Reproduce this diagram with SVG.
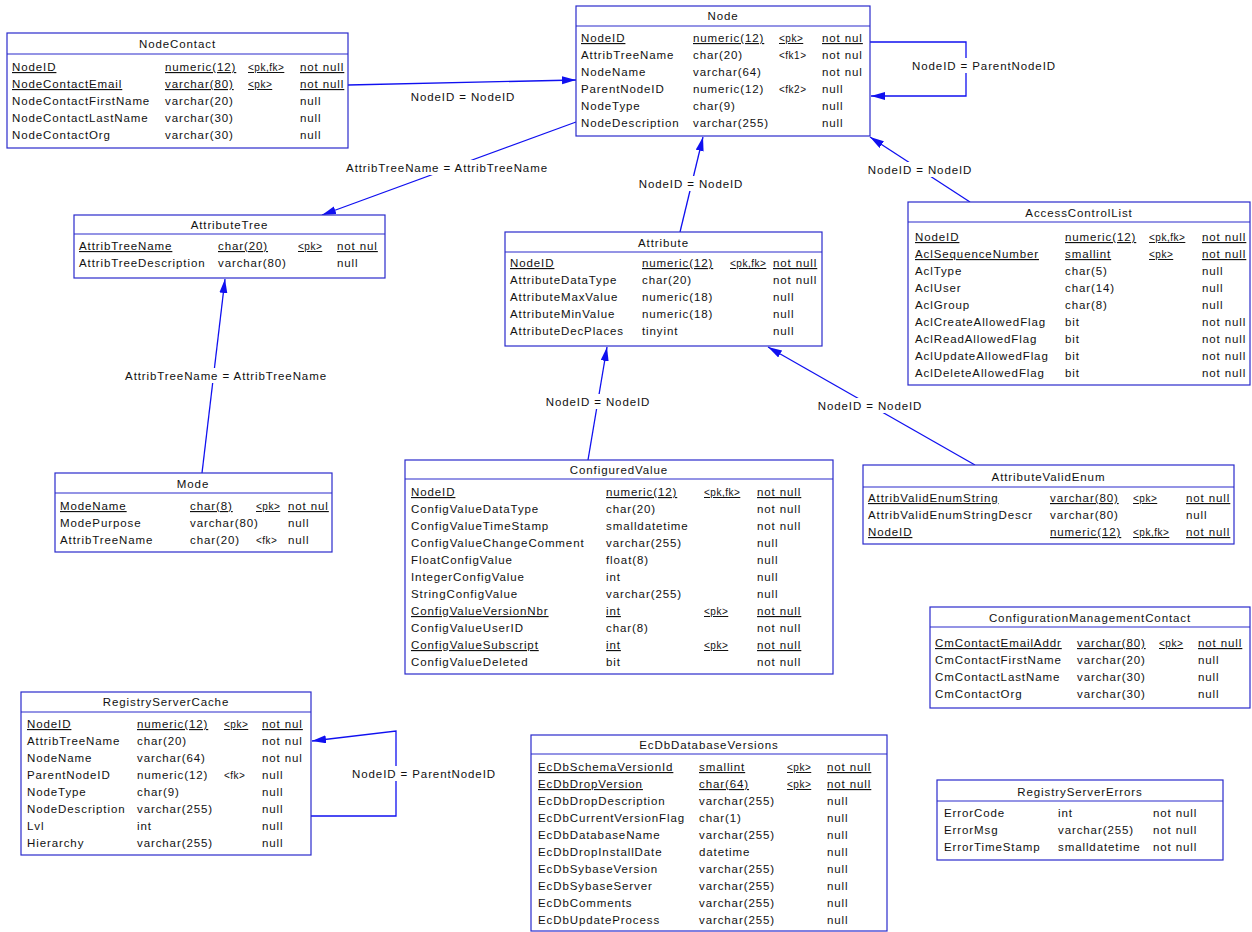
<svg xmlns="http://www.w3.org/2000/svg" width="1252" height="932" viewBox="0 0 1252 932">
<style>
.bg{fill:#fff}
.box{fill:#fff;stroke:#2a2acc;stroke-width:1.2}
.sep{stroke:#2a2acc;stroke-width:1.2}
.t{font-family:"Liberation Sans",Arial,sans-serif;font-size:11.5px;letter-spacing:0.9px;fill:#111}
.ttl{text-anchor:middle}
.k{font-size:10px;letter-spacing:0.5px}
.u{text-decoration:underline}
.conn{stroke:#1010f0;stroke-width:1.3;fill:none}
.lbg{fill:#fff}
.lbl{text-anchor:middle}
</style>
<defs>
<marker id="arr" markerUnits="userSpaceOnUse" markerWidth="15" markerHeight="9" refX="14" refY="4" orient="auto">
<path d="M0,0 L14,4 L0,8 z" fill="#1010f0"/>
</marker>
</defs>
<rect class="bg" x="0" y="0" width="1252" height="932"/>

<g id="connectors">
<line class="conn" x1="348" y1="85" x2="576" y2="80" marker-end="url(#arr)"/>
<polyline class="conn" points="870,42 966,42 966,96 871,96" marker-end="url(#arr)"/>
<line class="conn" x1="576" y1="122" x2="322" y2="215" marker-end="url(#arr)"/>
<line class="conn" x1="680" y1="232" x2="703" y2="137" marker-end="url(#arr)"/>
<line class="conn" x1="970" y1="202" x2="870" y2="137" marker-end="url(#arr)"/>
<line class="conn" x1="202" y1="473" x2="225" y2="279" marker-end="url(#arr)"/>
<line class="conn" x1="588" y1="460" x2="607" y2="347" marker-end="url(#arr)"/>
<line class="conn" x1="975" y1="465" x2="768" y2="347" marker-end="url(#arr)"/>
<polyline class="conn" points="311,816 396,816 396,731 312,741" marker-end="url(#arr)"/>

<text class="t lbl" x="463" y="101">NodeID = NodeID</text>
<rect class="lbg" x="910" y="58" width="148" height="15"/>
<text class="t lbl" x="984" y="70">NodeID = ParentNodeID</text>
<rect class="lbg" x="342" y="160" width="210" height="15"/>
<text class="t lbl" x="447" y="172">AttribTreeName = AttribTreeName</text>
<rect class="lbg" x="636" y="176" width="110" height="15"/>
<text class="t lbl" x="691" y="188">NodeID = NodeID</text>
<rect class="lbg" x="865" y="162" width="110" height="15"/>
<text class="t lbl" x="920" y="174">NodeID = NodeID</text>
<rect class="lbg" x="120" y="368" width="212" height="15"/>
<text class="t lbl" x="226" y="380">AttribTreeName = AttribTreeName</text>
<rect class="lbg" x="543" y="394" width="110" height="15"/>
<text class="t lbl" x="598" y="406">NodeID = NodeID</text>
<rect class="lbg" x="815" y="398" width="110" height="15"/>
<text class="t lbl" x="870" y="410">NodeID = NodeID</text>
<rect class="lbg" x="350" y="766" width="148" height="15"/>
<text class="t lbl" x="424" y="778">NodeID = ParentNodeID</text>
</g>

<g id="NodeContact">
<rect class="box" x="7" y="33" width="341" height="115"/>
<text class="t ttl" x="177.5" y="48">NodeContact</text>
<line class="sep" x1="7" y1="54" x2="348" y2="54"/>
<text class="t u" x="12" y="71">NodeID</text><text class="t u" x="165" y="71">numeric(12)</text><text class="t k u" x="248" y="71">&lt;pk,fk&gt;</text><text class="t u" x="300" y="71">not null</text>
<text class="t u" x="12" y="88">NodeContactEmail</text><text class="t u" x="165" y="88">varchar(80)</text><text class="t k u" x="248" y="88">&lt;pk&gt;</text><text class="t u" x="300" y="88">not null</text>
<text class="t" x="12" y="105">NodeContactFirstName</text><text class="t" x="165" y="105">varchar(20)</text><text class="t" x="300" y="105">null</text>
<text class="t" x="12" y="122">NodeContactLastName</text><text class="t" x="165" y="122">varchar(30)</text><text class="t" x="300" y="122">null</text>
<text class="t" x="12" y="139">NodeContactOrg</text><text class="t" x="165" y="139">varchar(30)</text><text class="t" x="300" y="139">null</text>
</g>

<g id="Node">
<rect class="box" x="576" y="6" width="294" height="130"/>
<text class="t ttl" x="723" y="20">Node</text>
<line class="sep" x1="576" y1="26" x2="870" y2="26"/>
<text class="t u" x="581" y="42">NodeID</text><text class="t u" x="693" y="42">numeric(12)</text><text class="t k u" x="779" y="42">&lt;pk&gt;</text><text class="t u" x="822" y="42">not nul</text>
<text class="t" x="581" y="59">AttribTreeName</text><text class="t" x="693" y="59">char(20)</text><text class="t k" x="779" y="59">&lt;fk1&gt;</text><text class="t" x="822" y="59">not nul</text>
<text class="t" x="581" y="76">NodeName</text><text class="t" x="693" y="76">varchar(64)</text><text class="t" x="822" y="76">not nul</text>
<text class="t" x="581" y="93">ParentNodeID</text><text class="t" x="693" y="93">numeric(12)</text><text class="t k" x="779" y="93">&lt;fk2&gt;</text><text class="t" x="822" y="93">null</text>
<text class="t" x="581" y="110">NodeType</text><text class="t" x="693" y="110">char(9)</text><text class="t" x="822" y="110">null</text>
<text class="t" x="581" y="127">NodeDescription</text><text class="t" x="693" y="127">varchar(255)</text><text class="t" x="822" y="127">null</text>
</g>

<g id="AttributeTree">
<rect class="box" x="74" y="215" width="311" height="63"/>
<text class="t ttl" x="229.5" y="229">AttributeTree</text>
<line class="sep" x1="74" y1="234" x2="385" y2="234"/>
<text class="t u" x="79" y="250">AttribTreeName</text><text class="t u" x="218" y="250">char(20)</text><text class="t k u" x="298" y="250">&lt;pk&gt;</text><text class="t u" x="337" y="250">not nul</text>
<text class="t" x="79" y="267">AttribTreeDescription</text><text class="t" x="218" y="267">varchar(80)</text><text class="t" x="337" y="267">null</text>
</g>

<g id="Attribute">
<rect class="box" x="505" y="232" width="317" height="114"/>
<text class="t ttl" x="663.5" y="247">Attribute</text>
<line class="sep" x1="505" y1="252" x2="822" y2="252"/>
<text class="t u" x="510" y="267">NodeID</text><text class="t u" x="642" y="267">numeric(12)</text><text class="t k u" x="730" y="267">&lt;pk,fk&gt;</text><text class="t u" x="773" y="267">not null</text>
<text class="t" x="510" y="284">AttributeDataType</text><text class="t" x="642" y="284">char(20)</text><text class="t" x="773" y="284">not null</text>
<text class="t" x="510" y="301">AttributeMaxValue</text><text class="t" x="642" y="301">numeric(18)</text><text class="t" x="773" y="301">null</text>
<text class="t" x="510" y="318">AttributeMinValue</text><text class="t" x="642" y="318">numeric(18)</text><text class="t" x="773" y="318">null</text>
<text class="t" x="510" y="335">AttributeDecPlaces</text><text class="t" x="642" y="335">tinyint</text><text class="t" x="773" y="335">null</text>
</g>

<g id="AccessControlList">
<rect class="box" x="908" y="202" width="342" height="183"/>
<text class="t ttl" x="1079" y="217">AccessControlList</text>
<line class="sep" x1="908" y1="222" x2="1250" y2="222"/>
<text class="t u" x="915" y="241">NodeID</text><text class="t u" x="1065" y="241">numeric(12)</text><text class="t k u" x="1149" y="241">&lt;pk,fk&gt;</text><text class="t u" x="1202" y="241">not null</text>
<text class="t u" x="915" y="258">AclSequenceNumber</text><text class="t u" x="1065" y="258">smallint</text><text class="t k u" x="1149" y="258">&lt;pk&gt;</text><text class="t u" x="1202" y="258">not null</text>
<text class="t" x="915" y="275">AclType</text><text class="t" x="1065" y="275">char(5)</text><text class="t" x="1202" y="275">null</text>
<text class="t" x="915" y="292">AclUser</text><text class="t" x="1065" y="292">char(14)</text><text class="t" x="1202" y="292">null</text>
<text class="t" x="915" y="309">AclGroup</text><text class="t" x="1065" y="309">char(8)</text><text class="t" x="1202" y="309">null</text>
<text class="t" x="915" y="326">AclCreateAllowedFlag</text><text class="t" x="1065" y="326">bit</text><text class="t" x="1202" y="326">not null</text>
<text class="t" x="915" y="343">AclReadAllowedFlag</text><text class="t" x="1065" y="343">bit</text><text class="t" x="1202" y="343">not null</text>
<text class="t" x="915" y="360">AclUpdateAllowedFlag</text><text class="t" x="1065" y="360">bit</text><text class="t" x="1202" y="360">not null</text>
<text class="t" x="915" y="377">AclDeleteAllowedFlag</text><text class="t" x="1065" y="377">bit</text><text class="t" x="1202" y="377">not null</text>
</g>

<g id="Mode">
<rect class="box" x="55" y="473" width="277" height="79"/>
<text class="t ttl" x="193" y="488">Mode</text>
<line class="sep" x1="55" y1="493" x2="332" y2="493"/>
<text class="t u" x="60" y="510">ModeName</text><text class="t u" x="190" y="510">char(8)</text><text class="t k u" x="256" y="510">&lt;pk&gt;</text><text class="t u" x="288" y="510">not nul</text>
<text class="t" x="60" y="527">ModePurpose</text><text class="t" x="190" y="527">varchar(80)</text><text class="t" x="288" y="527">null</text>
<text class="t" x="60" y="544">AttribTreeName</text><text class="t" x="190" y="544">char(20)</text><text class="t k" x="256" y="544">&lt;fk&gt;</text><text class="t" x="288" y="544">null</text>
</g>

<g id="ConfiguredValue">
<rect class="box" x="405" y="460" width="428" height="214"/>
<text class="t ttl" x="619" y="474">ConfiguredValue</text>
<line class="sep" x1="405" y1="479" x2="833" y2="479"/>
<text class="t u" x="411" y="496">NodeID</text><text class="t u" x="606" y="496">numeric(12)</text><text class="t k u" x="704" y="496">&lt;pk,fk&gt;</text><text class="t u" x="757" y="496">not null</text>
<text class="t" x="411" y="513">ConfigValueDataType</text><text class="t" x="606" y="513">char(20)</text><text class="t" x="757" y="513">not null</text>
<text class="t" x="411" y="530">ConfigValueTimeStamp</text><text class="t" x="606" y="530">smalldatetime</text><text class="t" x="757" y="530">not null</text>
<text class="t" x="411" y="547">ConfigValueChangeComment</text><text class="t" x="606" y="547">varchar(255)</text><text class="t" x="757" y="547">null</text>
<text class="t" x="411" y="564">FloatConfigValue</text><text class="t" x="606" y="564">float(8)</text><text class="t" x="757" y="564">null</text>
<text class="t" x="411" y="581">IntegerConfigValue</text><text class="t" x="606" y="581">int</text><text class="t" x="757" y="581">null</text>
<text class="t" x="411" y="598">StringConfigValue</text><text class="t" x="606" y="598">varchar(255)</text><text class="t" x="757" y="598">null</text>
<text class="t u" x="411" y="615">ConfigValueVersionNbr</text><text class="t u" x="606" y="615">int</text><text class="t k u" x="704" y="615">&lt;pk&gt;</text><text class="t u" x="757" y="615">not null</text>
<text class="t" x="411" y="632">ConfigValueUserID</text><text class="t" x="606" y="632">char(8)</text><text class="t" x="757" y="632">not null</text>
<text class="t u" x="411" y="649">ConfigValueSubscript</text><text class="t u" x="606" y="649">int</text><text class="t k u" x="704" y="649">&lt;pk&gt;</text><text class="t u" x="757" y="649">not null</text>
<text class="t" x="411" y="666">ConfigValueDeleted</text><text class="t" x="606" y="666">bit</text><text class="t" x="757" y="666">not null</text>
</g>

<g id="AttributeValidEnum">
<rect class="box" x="863" y="465" width="371" height="79"/>
<text class="t ttl" x="1048.5" y="481">AttributeValidEnum</text>
<line class="sep" x1="863" y1="487" x2="1234" y2="487"/>
<text class="t u" x="868" y="502">AttribValidEnumString</text><text class="t u" x="1050" y="502">varchar(80)</text><text class="t k u" x="1133" y="502">&lt;pk&gt;</text><text class="t u" x="1186" y="502">not null</text>
<text class="t" x="868" y="519">AttribValidEnumStringDescr</text><text class="t" x="1050" y="519">varchar(80)</text><text class="t" x="1186" y="519">null</text>
<text class="t u" x="868" y="536">NodeID</text><text class="t u" x="1050" y="536">numeric(12)</text><text class="t k u" x="1133" y="536">&lt;pk,fk&gt;</text><text class="t u" x="1186" y="536">not null</text>
</g>

<g id="ConfigurationManagementContact">
<rect class="box" x="930" y="607" width="320" height="101"/>
<text class="t ttl" x="1090" y="622">ConfigurationManagementContact</text>
<line class="sep" x1="930" y1="627" x2="1250" y2="627"/>
<text class="t u" x="935" y="647">CmContactEmailAddr</text><text class="t u" x="1077" y="647">varchar(80)</text><text class="t k u" x="1159" y="647">&lt;pk&gt;</text><text class="t u" x="1198" y="647">not null</text>
<text class="t" x="935" y="664">CmContactFirstName</text><text class="t" x="1077" y="664">varchar(20)</text><text class="t" x="1198" y="664">null</text>
<text class="t" x="935" y="681">CmContactLastName</text><text class="t" x="1077" y="681">varchar(30)</text><text class="t" x="1198" y="681">null</text>
<text class="t" x="935" y="698">CmContactOrg</text><text class="t" x="1077" y="698">varchar(30)</text><text class="t" x="1198" y="698">null</text>
</g>

<g id="RegistryServerCache">
<rect class="box" x="21" y="692" width="290" height="163"/>
<text class="t ttl" x="166" y="706">RegistryServerCache</text>
<line class="sep" x1="21" y1="712" x2="311" y2="712"/>
<text class="t u" x="27" y="728">NodeID</text><text class="t u" x="137" y="728">numeric(12)</text><text class="t k u" x="224" y="728">&lt;pk&gt;</text><text class="t u" x="262" y="728">not nul</text>
<text class="t" x="27" y="745">AttribTreeName</text><text class="t" x="137" y="745">char(20)</text><text class="t" x="262" y="745">not nul</text>
<text class="t" x="27" y="762">NodeName</text><text class="t" x="137" y="762">varchar(64)</text><text class="t" x="262" y="762">not nul</text>
<text class="t" x="27" y="779">ParentNodeID</text><text class="t" x="137" y="779">numeric(12)</text><text class="t k" x="224" y="779">&lt;fk&gt;</text><text class="t" x="262" y="779">null</text>
<text class="t" x="27" y="796">NodeType</text><text class="t" x="137" y="796">char(9)</text><text class="t" x="262" y="796">null</text>
<text class="t" x="27" y="813">NodeDescription</text><text class="t" x="137" y="813">varchar(255)</text><text class="t" x="262" y="813">null</text>
<text class="t" x="27" y="830">Lvl</text><text class="t" x="137" y="830">int</text><text class="t" x="262" y="830">null</text>
<text class="t" x="27" y="847">Hierarchy</text><text class="t" x="137" y="847">varchar(255)</text><text class="t" x="262" y="847">null</text>
</g>

<g id="EcDbDatabaseVersions">
<rect class="box" x="531" y="735" width="356" height="196"/>
<text class="t ttl" x="709" y="749">EcDbDatabaseVersions</text>
<line class="sep" x1="531" y1="754" x2="887" y2="754"/>
<text class="t u" x="538" y="771">EcDbSchemaVersionId</text><text class="t u" x="699" y="771">smallint</text><text class="t k u" x="787" y="771">&lt;pk&gt;</text><text class="t u" x="827" y="771">not null</text>
<text class="t u" x="538" y="788">EcDbDropVersion</text><text class="t u" x="699" y="788">char(64)</text><text class="t k u" x="787" y="788">&lt;pk&gt;</text><text class="t u" x="827" y="788">not null</text>
<text class="t" x="538" y="805">EcDbDropDescription</text><text class="t" x="699" y="805">varchar(255)</text><text class="t" x="827" y="805">null</text>
<text class="t" x="538" y="822">EcDbCurrentVersionFlag</text><text class="t" x="699" y="822">char(1)</text><text class="t" x="827" y="822">null</text>
<text class="t" x="538" y="839">EcDbDatabaseName</text><text class="t" x="699" y="839">varchar(255)</text><text class="t" x="827" y="839">null</text>
<text class="t" x="538" y="856">EcDbDropInstallDate</text><text class="t" x="699" y="856">datetime</text><text class="t" x="827" y="856">null</text>
<text class="t" x="538" y="873">EcDbSybaseVersion</text><text class="t" x="699" y="873">varchar(255)</text><text class="t" x="827" y="873">null</text>
<text class="t" x="538" y="890">EcDbSybaseServer</text><text class="t" x="699" y="890">varchar(255)</text><text class="t" x="827" y="890">null</text>
<text class="t" x="538" y="907">EcDbComments</text><text class="t" x="699" y="907">varchar(255)</text><text class="t" x="827" y="907">null</text>
<text class="t" x="538" y="924">EcDbUpdateProcess</text><text class="t" x="699" y="924">varchar(255)</text><text class="t" x="827" y="924">null</text>
</g>

<g id="RegistryServerErrors">
<rect class="box" x="937" y="780" width="286" height="80"/>
<text class="t ttl" x="1080" y="796">RegistryServerErrors</text>
<line class="sep" x1="937" y1="801" x2="1223" y2="801"/>
<text class="t" x="944" y="817">ErrorCode</text><text class="t" x="1058" y="817">int</text><text class="t" x="1153" y="817">not null</text>
<text class="t" x="944" y="834">ErrorMsg</text><text class="t" x="1058" y="834">varchar(255)</text><text class="t" x="1153" y="834">not null</text>
<text class="t" x="944" y="851">ErrorTimeStamp</text><text class="t" x="1058" y="851">smalldatetime</text><text class="t" x="1153" y="851">not null</text>
</g>
</svg>
